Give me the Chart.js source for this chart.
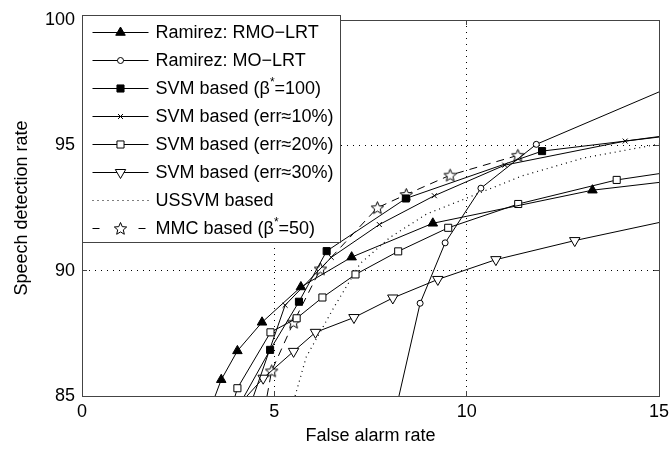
<!DOCTYPE html>
<html>
<head>
<meta charset="utf-8">
<script src="https://cdn.jsdelivr.net/npm/chart.js@4/dist/chart.umd.min.js"></script>
<style>
html,body{margin:0;padding:0;background:#fff;}
#wrap{width:670px;height:449px;position:relative;}
</style>
</head>
<body>
<div id="wrap"><canvas id="c" width="670" height="449"></canvas></div>
<script>
// ---- data ----
const xTicks = [0, 5, 10, 15];
const yTicks = [85, 90, 95, 100];
const xGrid = [5, 10];
const yGrid = [90, 95];

const seriesNames = [
  "Ramirez: RMO\u2212LRT",
  "Ramirez: MO\u2212LRT",
  "SVM based (\u03B2^*=100)",
  "SVM based (err\u224810%)",
  "SVM based (err\u224820%)",
  "SVM based (err\u224830%)",
  "USSVM based",
  "MMC based (\u03B2^*=50)"
];

const rmoX = [3.46, 3.62, 4.04, 4.68, 5.69, 7.01, 9.12, 13.27, 15];
const rmoY = [85, 85.65, 86.80, 87.94, 89.35, 90.54, 91.89, 93.21, 93.52];

const moX = [8.24, 8.79, 9.44, 10.37, 11.81, 15];
const moY = [85, 88.70, 91.11, 93.29, 95.04, 97.13];

const svm100X = [4.22, 4.89, 5.64, 6.36, 8.42, 11.96, 15];
const svm100Y = [85, 86.84, 88.76, 90.78, 92.88, 94.77, 95.33];

const err10X = [4.46, 5.28, 6.48, 7.73, 9.16, 10.99, 14.12, 15];
const err10Y = [85, 88.62, 90.53, 91.84, 92.99, 94.21, 95.17, 95.35];

const err20X = [3.98, 4.04, 4.90, 5.58, 6.25, 7.11, 8.22, 9.52, 11.34, 13.90, 15];
const err20Y = [85, 85.31, 87.54, 88.10, 88.93, 89.85, 90.77, 91.71, 92.66, 93.62, 93.87];

const err30X = [4.29, 4.71, 5.50, 6.07, 7.07, 8.08, 9.25, 10.76, 12.81, 15];
const err30Y = [85, 85.71, 86.78, 87.54, 88.13, 88.91, 89.65, 90.44, 91.20, 91.92];

const ussvmX = [5.54, 5.83, 6.58, 6.79, 7.23, 8.01, 8.96, 9.83, 11.44, 13.05, 15];
const ussvmY = [85, 86.56, 88.62, 89.15, 90.28, 91.33, 92.26, 92.79, 93.78, 94.50, 95.05];

const mmcX = [4.81, 4.93, 5.50, 6.20, 7.68, 8.43, 9.57, 11.33];
const mmcY = [85, 86.00, 87.94, 90.07, 92.51, 93.04, 93.81, 94.60];

// ---- helpers ----
const FONT = {family: "'Liberation Sans', Arial, Helvetica, sans-serif", size: 18};
const AXIS_COLOR = '#444';
const pts = (xs, ys) => xs.map((x, i) => ({x: x, y: ys[i]}));

// five-pointed open star marker
function makeStar(size) {
  const c = document.createElement('canvas');
  c.width = size; c.height = size;
  const g = c.getContext('2d');
  const cx = size / 2, cy = size / 2 + 0.5, R = size / 2 - 1, r = R * 0.45;
  g.beginPath();
  for (let i = 0; i < 10; i++) {
    const a = -Math.PI / 2 + i * Math.PI / 5;
    const rr = i % 2 ? r : R;
    const px = cx + rr * Math.cos(a), py = cy + rr * Math.sin(a);
    if (i) g.lineTo(px, py); else g.moveTo(px, py);
  }
  g.closePath();
  g.fillStyle = '#fff';
  g.fill();
  g.lineWidth = 1;
  g.strokeStyle = '#000';
  g.stroke();
  return c;
}
const starImg = makeStar(15);

const markerRadius = r => (ctx) => {
  const p = ctx.raw;
  if (!p) return r;
  return (p.y <= 85 || p.x >= 15) ? 0 : r;
};

function ds(name, data, style) {
  return Object.assign({
    label: name,
    data: data,
    showLine: true,
    borderColor: '#000',
    borderWidth: 1,
    tension: 0,
    pointBorderColor: '#000',
    pointBorderWidth: 1,
    pointHoverRadius: 0,
    xAxisID: 'x',
    yAxisID: 'y'
  }, style);
}

const datasets = [
  ds(seriesNames[0], pts(rmoX, rmoY), {pointStyle: 'triangle', pointRadius: markerRadius(5.5), pointBackgroundColor: '#000', legendR: 5.5}),
  ds(seriesNames[1], pts(moX, moY), {pointStyle: 'circle', pointRadius: markerRadius(3), pointBackgroundColor: '#fff', legendR: 3}),
  ds(seriesNames[2], pts(svm100X, svm100Y), {pointStyle: 'rect', pointRadius: markerRadius(5), pointBackgroundColor: '#000', legendR: 5}),
  ds(seriesNames[3], pts(err10X, err10Y), {pointStyle: 'crossRot', pointRadius: markerRadius(3.5), pointBackgroundColor: '#fff', legendR: 3.5}),
  ds(seriesNames[4], pts(err20X, err20Y), {pointStyle: 'rect', pointRadius: markerRadius(5), pointBackgroundColor: '#fff', legendR: 5}),
  ds(seriesNames[5], pts(err30X, err30Y), {pointStyle: 'triangle', pointRotation: 180, pointRadius: markerRadius(6), pointBackgroundColor: '#fff', legendR: 6}),
  ds(seriesNames[6], pts(ussvmX, ussvmY), {pointStyle: 'circle', pointRadius: 0, borderDash: [1, 4], borderWidth: 1.2, legendR: 0}),
  ds(seriesNames[7], pts(mmcX, mmcY), {pointStyle: starImg, pointRadius: markerRadius(6), pointBackgroundColor: '#fff', borderDash: [8, 6], legendR: 6, legendDash: [7, 39]})
];

// legend drawn inside the plot (Matlab style)
const boxLegend = {
  id: 'boxLegend',
  afterDatasetsDraw(chart) {
    const ctx = chart.ctx;
    const area = chart.chartArea;
    const L = area.left + 0.5, T = Math.round(area.top) - 4.5, W = 258, H = 227;
    ctx.save();
    ctx.fillStyle = '#fff';
    ctx.fillRect(L, T, W, H);
    ctx.strokeStyle = AXIS_COLOR;
    ctx.lineWidth = 1;
    ctx.strokeRect(L, T, W, H);
    chart.data.datasets.forEach((d, i) => {
      const y = Math.round(T + 16 + i * 28) + 0.5;
      ctx.save();
      ctx.strokeStyle = '#000';
      ctx.lineWidth = d.borderWidth || 1;
      ctx.setLineDash(d.legendDash || d.borderDash || []);
      ctx.beginPath();
      ctx.moveTo(L + 10, y);
      ctx.lineTo(L + 66, y);
      ctx.stroke();
      ctx.restore();
      if (d.legendR > 0) {
        ctx.save();
        ctx.fillStyle = d.pointBackgroundColor;
        ctx.strokeStyle = '#000';
        ctx.lineWidth = 1;
        Chart.helpers.drawPoint(ctx, {pointStyle: d.pointStyle, radius: d.legendR, rotation: d.pointRotation || 0, borderWidth: 1}, L + 38, y);
        ctx.restore();
      }
      ctx.fillStyle = '#000';
      ctx.textBaseline = 'middle';
      ctx.textAlign = 'left';
      let x = L + 73;
      const parts = d.label.split('^*');
      parts.forEach((p, k) => {
        ctx.font = FONT.size + 'px ' + FONT.family;
        ctx.fillText(p, x, y + 1);
        x += ctx.measureText(p).width;
        if (k < parts.length - 1) {
          ctx.font = '12px ' + FONT.family;
          ctx.fillText('*', x, y - 6);
          x += ctx.measureText('*').width;
        }
      });
    });
    ctx.restore();
  }
};

const gridColor = (vals) => (ctx) => (ctx.tick && vals.includes(ctx.tick.value)) ? '#000' : 'rgba(0,0,0,0)';

new Chart(document.getElementById('c'), {
  type: 'scatter',
  data: {datasets: datasets},
  plugins: [boxLegend],
  options: {
    responsive: false,
    animation: false,
    events: [],
    layout: {padding: {top: 20, right: 11, left: 0, bottom: 0}},
    plugins: {legend: {display: false}, tooltip: {enabled: false}},
    scales: {
      x: {
        type: 'linear', position: 'bottom', axis: 'x', min: 0, max: 15,
        afterBuildTicks: s => { s.ticks = xTicks.map(v => ({value: v})); },
        afterFit: s => { s.height = 53; s.paddingLeft = 0; s.paddingRight = 0; },
        ticks: {font: FONT, color: '#000', padding: 10, maxRotation: 0},
        grid: {color: gridColor(xGrid), lineWidth: 1, tickLength: -5, tickColor: AXIS_COLOR, tickBorderDash: []},
        border: {color: AXIS_COLOR, width: 1, dash: [1, 5]},
        title: {display: true, text: 'False alarm rate', font: FONT, color: '#000', padding: {top: 0, bottom: 2}}
      },
      y: {
        type: 'linear', position: 'left', axis: 'y', min: 85, max: 100,
        afterBuildTicks: s => { s.ticks = yTicks.map(v => ({value: v})); },
        afterFit: s => { s.width = 82; s.paddingTop = 0; s.paddingBottom = 0; },
        ticks: {font: FONT, color: '#000', padding: 12},
        grid: {color: gridColor(yGrid), lineWidth: 1, tickLength: -5, tickColor: AXIS_COLOR, tickBorderDash: []},
        border: {color: AXIS_COLOR, width: 1, dash: [1, 5]},
        title: {display: true, text: 'Speech detection rate', font: FONT, color: '#000', padding: {top: 11, bottom: 0}}
      },
      x2: {
        type: 'linear', position: 'top', axis: 'x', min: 0, max: 15,
        afterBuildTicks: s => { s.ticks = xTicks.map(v => ({value: v})); },
        afterFit: s => { s.height = 0; s.paddingLeft = 0; s.paddingRight = 0; },
        ticks: {display: false},
        grid: {drawOnChartArea: false, tickLength: -5, color: AXIS_COLOR},
        border: {color: AXIS_COLOR, width: 1}
      },
      y2: {
        type: 'linear', position: 'right', axis: 'y', min: 85, max: 100,
        afterBuildTicks: s => { s.ticks = yTicks.map(v => ({value: v})); },
        afterFit: s => { s.width = 0; s.paddingTop = 0; s.paddingBottom = 0; },
        ticks: {display: false},
        grid: {drawOnChartArea: false, tickLength: -5, color: AXIS_COLOR},
        border: {color: AXIS_COLOR, width: 1}
      }
    }
  }
});
</script>
</body>
</html>
